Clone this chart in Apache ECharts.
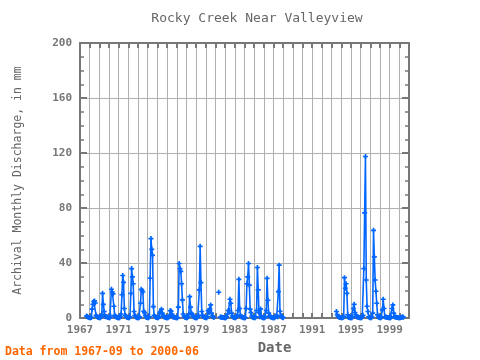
<!DOCTYPE html>
<html>
<head>
<meta charset="utf-8">
<script src="https://cdn.jsdelivr.net/npm/echarts@6/dist/echarts.min.js"></script>
<style>html,body{margin:0;padding:0;background:#fff}#c{width:480px;height:360px}</style>
</head>
<body>
<div id="c"></div>
<script>
// Monthly discharge (mm), Jan..Dec; null = no data
const v1967 = [null,null,null,null,null,null,null,null,1.5,1.2,0.6,0.4];
const v1968 = [0.3,0.3,0.5,6.5,10,12,12.5,11,2,1.2,0.6,0.4];
const v1969 = [0.3,0.3,0.8,2.4,18,10,4.8,1.5,1,1.2,0.6,0.4];
const v1970 = [0.3,0.3,1.5,21,19,17.6,8.6,2,1,1,0.5,0.3];
const v1971 = [0.3,0.3,1,3,17,31,26,7,2,1.5,0.6,0.4];
const v1972 = [0.3,0.3,1,18,36,30,25,4.8,2,1,0.5,0.3];
const v1973 = [0.3,0.3,1,10.8,21,20,19,5,4,2,0.6,0.4];
const v1974 = [0.3,0.3,1,29,57.8,50,45.7,8.4,2,1.2,0.6,0.4];
const v1975 = [0.3,0.3,1,4,5,6.5,3.6,2,1,0.8,0.5,0.3];
const v1976 = [0.3,0.3,0.8,2,5.5,5,3,1,0.8,0.6,0.4,0.3];
const v1977 = [0.3,0.3,8,39.7,36,34,25,13.2,3,1.5,0.6,0.4];
const v1978 = [0.3,0.3,1,3,15.6,8,3.6,2.9,1.5,1,0.5,0.3];
const v1979 = [0.3,0.3,1,2,20.5,52.2,25.8,4.8,2,1.2,0.6,0.4];
const v1980 = [0.3,0.3,1,5.4,4,6.5,9.6,3.6,1.5,1,0.5,null];
const v1981 = [null,null,null,null,18.8,null,0.8,0.6,0.6,0.5,0.4,0.3];
const v1982 = [0.3,0.3,1,3,5.5,5.5,13.7,10.8,3.6,1.5,0.6,0.4];
const v1983 = [0.3,0.3,1,2,5.5,28.2,7,2,1,0.8,0.5,0.3];
const v1984 = [0.3,0.3,7,25,30,39.7,24,6.5,4,1.5,0.6,0.4];
const v1985 = [0.3,0.3,1,5.5,36.8,20.5,4,1,6.7,1,0.5,0.3];
const v1986 = [0.3,0.3,1,5.5,28.9,13,3.6,1.5,1,0.8,0.5,0.3];
const v1987 = [0.3,0.3,0.8,1.5,1.5,1,19.3,38.5,5,2,1,0.5];
const v1988 = [0.3,null,null,null,null,null,null,null,null,null,null,null];
const v1989 = [null,null,null,null,null,null,null,null,null,null,null,null];
const v1990 = [null,null,null,null,null,null,null,null,null,null,null,null];
const v1991 = [null,null,null,null,null,null,null,null,null,null,null,null];
const v1992 = [null,null,null,null,null,null,null,null,null,null,null,null];
const v1993 = [null,null,null,null,null,null,4.8,2.5,1.2,0.8,0.5,0.4];
const v1994 = [0.3,0.3,0.5,1,29.4,21.7,25,18,2.4,0.5,0.4,0.3];
const v1995 = [0.3,0.3,0.8,7,10,4,2.4,1,0.8,0.6,0.4,0.3];
const v1996 = [0.3,0.3,0.8,2,36,76.5,117.5,27.7,8.6,4.8,1,0.5];
const v1997 = [0.3,0.3,0.8,3.6,63.8,44.5,27.7,19.5,10.8,2.4,0.8,0.4];
const v1998 = [0.3,0.3,0.8,6,13.7,7,1,0.8,0.6,0.5,0.4,0.3];
const v1999 = [0.3,0.3,0.8,7,9.6,3.6,1,0.8,0.6,0.5,0.4,0.3];
const v2000 = [0.3,0.3,0.4,0.6,0.8,0.7,null,null,null,null,null,null];

const startYear = 1967;
const yearlyValues = [v1967,v1968,v1969,v1970,v1971,v1972,v1973,v1974,v1975,v1976,
  v1977,v1978,v1979,v1980,v1981,v1982,v1983,v1984,v1985,v1986,v1987,v1988,v1989,
  v1990,v1991,v1992,v1993,v1994,v1995,v1996,v1997,v1998,v1999,v2000];
const xTickYears = [1967,1971,1975,1979,1983,1987,1991,1995,1999];
const yTicks = [0,40,80,120,160,200];

const data = [];
yearlyValues.forEach((arr, yi) => {
  arr.forEach((v, m) => {
    const t = yi + m / 12;
    if (v === null) {
      if (data.length) data.push([t, null]);
    } else data.push([t, v]);
  });
});

const font = '"DejaVu Sans Mono", monospace';
const frame = '#777';
const gridC = '#b0b0b0';
const plus = 'path://M2,0h2v2h2v2h-2v2h-2v-2h-2v-2h2z';

const chart = echarts.init(document.getElementById('c'), null, {renderer: 'canvas'});
chart.setOption({
  animation: false,
  backgroundColor: '#fff',
  title: {
    text: 'Rocky Creek Near Valleyview',
    left: 252, top: 7, textAlign: 'center',
    textStyle: {fontFamily: font, fontSize: 13, fontWeight: 'normal', color: '#666'}
  },
  grid: {left: 80, right: 71, top: 43, bottom: 40},
  xAxis: [{
    type: 'value', min: 0, max: 34, interval: 4, position: 'bottom',
    name: 'Date', nameLocation: 'middle', nameGap: 21,
    nameTextStyle: {fontFamily: font, fontSize: 14, fontWeight: 'bold', color: '#666', padding: [0,0,0,60]},
    axisLine: {show: true, onZero: false, lineStyle: {color: frame, width: 2}},
    axisTick: {show: true, inside: true, length: 5, lineStyle: {color: frame, width: 2}},
    minorTick: {show: true, splitNumber: 4, length: 5, lineStyle: {color: frame, width: 2}},
    splitLine: {show: true, lineStyle: {color: gridC, width: 1}},
    minorSplitLine: {show: true, lineStyle: {color: gridC, width: 1}},
    axisLabel: {
      showMaxLabel: false, margin: 7,
      fontFamily: font, fontSize: 11, fontWeight: 'bold', color: '#777',
      formatter: v => { const y = startYear + Math.round(v); return xTickYears.includes(y) ? String(y) : ''; }
    }
  }, {
    type: 'value', min: 0, max: 34, interval: 4, position: 'top',
    axisLine: {show: true, onZero: false, lineStyle: {color: frame, width: 2}},
    axisTick: {show: true, inside: true, length: 5, lineStyle: {color: frame, width: 2}},
    minorTick: {show: true, splitNumber: 4, length: 5, lineStyle: {color: frame, width: 2}},
    splitLine: {show: false}, axisLabel: {show: false}
  }],
  yAxis: [{
    type: 'value', min: 0, max: 200, interval: 40, position: 'left',
    name: 'Archival Monthly Discharge, in mm', nameLocation: 'middle', nameGap: 56,
    nameTextStyle: {fontFamily: font, fontSize: 11.5, fontWeight: 'normal', color: '#666'},
    axisLine: {show: true, onZero: false, lineStyle: {color: frame, width: 2}},
    axisTick: {show: true, inside: true, length: 7, lineStyle: {color: frame, width: 2}},
    minorTick: {show: true, splitNumber: 4, length: 4, lineStyle: {color: frame, width: 1.5}},
    splitLine: {show: true, lineStyle: {color: gridC, width: 1}},
    axisLabel: {
      margin: 8, fontFamily: font, fontSize: 11, fontWeight: 'bold', color: '#777',
      formatter: v => yTicks.includes(v) ? String(v) : ''
    }
  }, {
    type: 'value', min: 0, max: 200, interval: 40, position: 'right',
    axisLine: {show: true, onZero: false, lineStyle: {color: frame, width: 2}},
    axisTick: {show: true, inside: true, length: 7, lineStyle: {color: frame, width: 2}},
    minorTick: {show: true, splitNumber: 4, length: 4, lineStyle: {color: frame, width: 1.5}},
    splitLine: {show: false}, axisLabel: {show: false}
  }],
  graphic: [{
    type: 'text', left: 5, top: 346,
    style: {text: 'Data from 1967-09 to 2000-06', fill: '#ff6600', font: 'bold 11.5px ' + font}
  }],
  series: [{
    type: 'line', xAxisIndex: 0, yAxisIndex: 0,
    data: data, connectNulls: false,
    showAllSymbol: true, symbol: plus, symbolSize: 5,
    itemStyle: {color: '#0066ff'},
    lineStyle: {color: '#0066ff', width: 1.6},
    clip: true
  }]
});
</script>
</body>
</html>
